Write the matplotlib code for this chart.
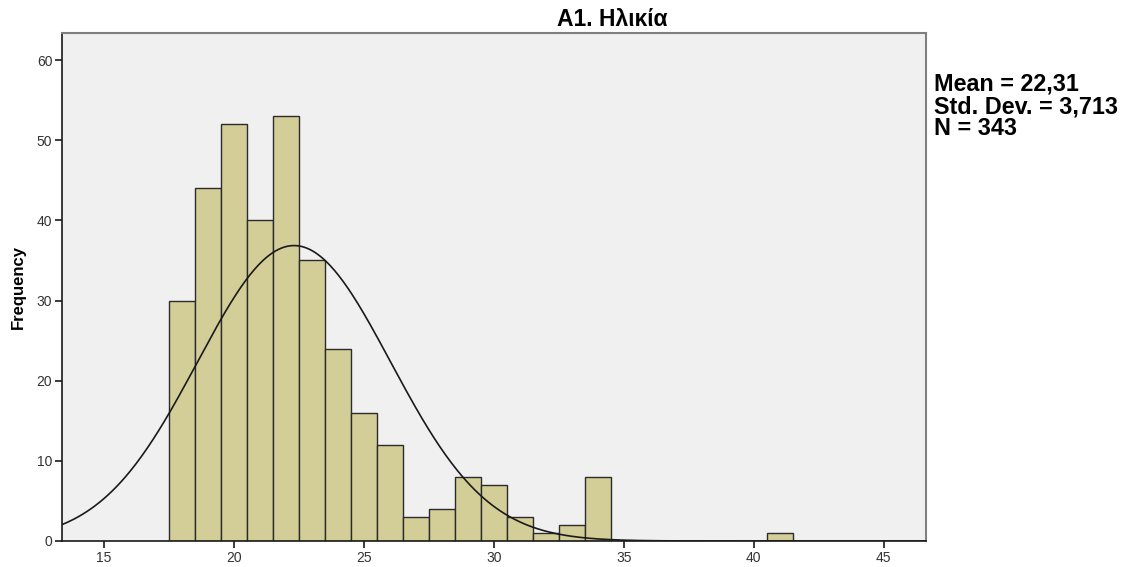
import numpy as np
import matplotlib
matplotlib.use("Agg")
import matplotlib.pyplot as plt

plt.rcParams['font.family'] = ['Liberation Sans', 'DejaVu Sans']

bin_left = [17.5, 18.5, 19.5, 20.5, 21.5, 22.5, 23.5, 24.5, 25.5, 26.5, 27.5,
            28.5, 29.5, 30.5, 31.5, 32.5, 33.5, 40.5]
counts = [30, 44, 52, 40, 53, 35, 24, 16, 12, 3, 4, 8, 7, 3, 1, 2, 8, 1]
bin_width = 1.0
mean = 22.31
std = 3.713
n = 343
xticks = [15, 20, 25, 30, 35, 40, 45]
yticks = [0, 10, 20, 30, 40, 50, 60]

fig = plt.figure(figsize=(11.3, 5.67), dpi=100)
ax = fig.add_axes([62/1130, 1-541/567, (926-62)/1130, (541-33)/567])
ax.set_facecolor('#F0F0F0')

ax.bar(bin_left, counts, width=bin_width, align='edge', color='#D3CE97',
       edgecolor='#2b2b2b', linewidth=1.0, zorder=2)

xs = np.linspace(13.38, 46.63, 600)
ys = n * bin_width / (std * np.sqrt(2*np.pi)) * np.exp(-0.5*((xs-mean)/std)**2)
ax.plot(xs, ys, color='#1a1a1a', linewidth=1.2, zorder=3)

ax.set_xlim(13.38, 46.63)
ax.set_ylim(0, 63.37)
ax.set_xticks(xticks)
ax.set_yticks(yticks)
ax.tick_params(axis='both', direction='out', length=5, width=1.2, color='#1a1a1a',
               labelsize=10, labelcolor='#333333', pad=2)

for s in ['left', 'bottom']:
    ax.spines[s].set_color('#1a1a1a')
    ax.spines[s].set_linewidth(1.2)
for s in ['top', 'right']:
    ax.spines[s].set_color('#808080')
    ax.spines[s].set_linewidth(1.5)

ax.set_ylabel('Frequency', fontsize=12, fontweight='bold', labelpad=8)
fig.text(612/1130, 1-20/567, 'A1. Ηλικία', fontsize=16.5, fontweight='bold',
         ha='center', va='center')

fig.text(934/1130, 1-73/567, 'Mean = 22,31\nStd. Dev. = 3,713\nN = 343',
         fontsize=16.8, fontweight='bold', va='top', ha='left', linespacing=0.95)

fig.savefig('out.png', dpi=100)
